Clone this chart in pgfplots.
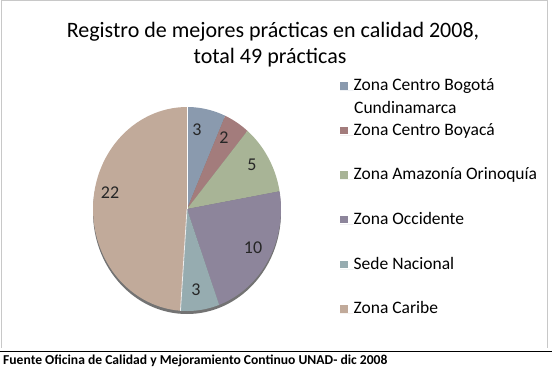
\documentclass[border=0pt]{standalone}
\usepackage{pgfplots}
\pgfplotsset{compat=1.18}
\usepackage{fontspec}
\setmainfont{Carlito}
\definecolor{cBog}{RGB}{138,154,174}
\definecolor{cBoy}{RGB}{163,124,124}
\definecolor{cAma}{RGB}{168,180,150}
\definecolor{cOcc}{RGB}{141,133,155}
\definecolor{cSed}{RGB}{150,172,176}
\definecolor{cCar}{RGB}{193,170,154}
\definecolor{frame}{RGB}{200,200,200}
\newcommand\lent[1]{\strut#1}
% pie geometry (pixels): centre and radii
\def\cx{187}\def\cy{209}\def\rx{94}\def\ry{102}
% values: 3, 2, 5, 10, 3, 22 (sum 45); slices clockwise from 12 o'clock
\def\tot{45}
\begin{document}
\begin{tikzpicture}
\useasboundingbox (0,0) rectangle (552bp,372bp);
\begin{axis}[
  at={(0,0)}, anchor=south west,
  scale only axis, width=552bp, height=372bp,
  xmin=0, xmax=552, ymin=0, ymax=372, y dir=reverse,
  hide axis, clip=false,
  legend style={draw=none, fill=none, inner sep=0pt,
    at={(axis description cs:0.6159,0.8)}, anchor=north west,
    font=\fontsize{17.5bp}{23bp}\selectfont,
    nodes={inner sep=0pt}, cells={anchor=base west}, row sep=27bp},
  legend image code/.code={\fill[#1] (0bp,1bp) rectangle (7.5bp,8.5bp); \path (0bp,0bp) -- (13.5bp,0bp);},
  every axis plot/.append style={draw=none, samples=60, variable=\t},
]
% frame and footer rule
\draw[frame, line width=1bp] (axis cs:1.5,348) -- (axis cs:1.5,1) -- (axis cs:547,1) -- (axis cs:547,348);
\draw[black, line width=1.6bp] (axis cs:0,351.5) -- (axis cs:552,351.5);
% 3D rim
\fill[black!55] (axis cs:\cx,\cy+3) ellipse [x radius=\rx, y radius=\ry];
% slices
\addplot[fill=cBog, domain={90-360*3/\tot}:{90}] ({\cx+\rx*cos(\t)},{\cy-\ry*sin(\t)}) -- (axis cs:\cx,\cy) -- cycle;
\addlegendentry{\lent{Zona Centro Bogotá}}
\addplot[fill=cBoy, domain={90-360*5/\tot}:{90-360*3/\tot}] ({\cx+\rx*cos(\t)},{\cy-\ry*sin(\t)}) -- (axis cs:\cx,\cy) -- cycle;
\addlegendentry{\lent{Zona Centro Boyacá}}
\addplot[fill=cAma, domain={90-360*10/\tot}:{90-360*5/\tot}] ({\cx+\rx*cos(\t)},{\cy-\ry*sin(\t)}) -- (axis cs:\cx,\cy) -- cycle;
\addlegendentry{\lent{Zona Amazonía Orinoquía}}
\addplot[fill=cOcc, domain={90-360*20/\tot}:{90-360*10/\tot}] ({\cx+\rx*cos(\t)},{\cy-\ry*sin(\t)}) -- (axis cs:\cx,\cy) -- cycle;
\addlegendentry{\lent{Zona Occidente}}
\addplot[fill=cSed, domain={90-360*23/\tot}:{90-360*20/\tot}] ({\cx+\rx*cos(\t)},{\cy-\ry*sin(\t)}) -- (axis cs:\cx,\cy) -- cycle;
\addlegendentry{\lent{Sede Nacional}}
\addplot[fill=cCar, domain={90-360*45/\tot}:{90-360*23/\tot}] ({\cx+\rx*cos(\t)},{\cy-\ry*sin(\t)}) -- (axis cs:\cx,\cy) -- cycle;
\addlegendentry{\lent{Zona Caribe}}
\draw[white, line width=0.8bp] (axis cs:\cx,\cy) -- (axis cs:\cx,\cy-\ry);
\draw[white!85!gray, line width=0.8bp] (axis cs:\cx,\cy) -- (axis cs:{\cx+\rx*cos(-94)},{\cy-\ry*sin(-94)});
% slice labels
\begin{scope}[every node/.style={inner sep=0pt, text=black!85, font=\fontsize{18bp}{20bp}\selectfont}]
\node at (axis cs:197,130) {3};
\node at (axis cs:224,138) {2};
\node at (axis cs:252,165) {5};
\node at (axis cs:253,248) {10};
\node at (axis cs:196,290) {3};
\node at (axis cs:110,193) {22};
\end{scope}
% second line of the first legend entry
\node[anchor=base west, inner sep=0pt, font=\fontsize{17.5bp}{23bp}\selectfont] at (axis cs:354,113.5) {Cundinamarca};
% title
\node[anchor=base, inner sep=0pt, font=\fontsize{22bp}{26bp}\selectfont] at (axis cs:273,37.3) {Registro de mejores prácticas en calidad 2008,};
\node[anchor=base, inner sep=0pt, font=\fontsize{22bp}{26bp}\selectfont] at (axis cs:270,63.3) {total 49 prácticas};
% source
\node[anchor=base west, inner sep=0pt, font=\bfseries\fontsize{13.6bp}{15bp}\selectfont] at (axis cs:3,364.7) {Fuente Oficina de Calidad y Mejoramiento Continuo UNAD- dic 2008};
\end{axis}
\end{tikzpicture}
\end{document}
